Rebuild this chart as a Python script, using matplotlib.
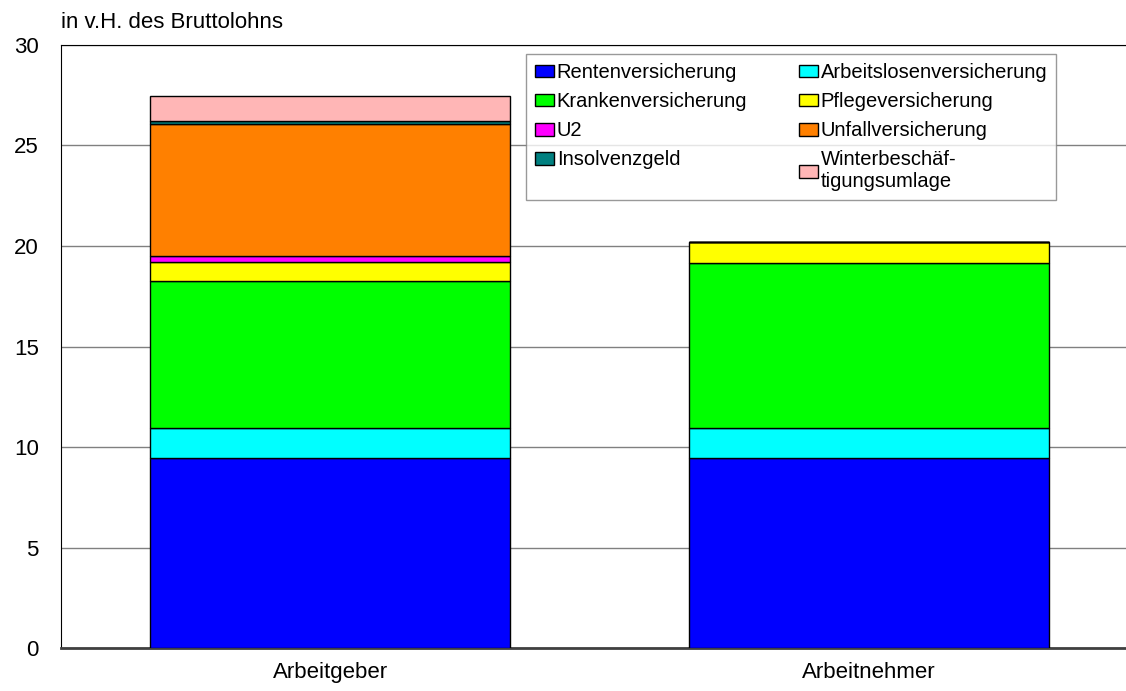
import matplotlib.pyplot as plt
import numpy as np

plt.rcParams["font.family"] = ["Liberation Sans", "DejaVu Sans"]

CATEGORIES = ["Arbeitgeber", "Arbeitnehmer"]
SERIES = [
    "Rentenversicherung",
    "Arbeitslosenversicherung",
    "Krankenversicherung",
    "Pflegeversicherung",
    "U2",
    "Unfallversicherung",
    "Insolvenzgeld",
    "Winterbeschäf-\ntigungsumlage",
]
# Beitragssätze in v.H. des Bruttolohns (Arbeitgeber, Arbeitnehmer)
RENTEN = [9.45, 9.45]
ARBEITSLOSEN = [1.5, 1.5]
KRANKEN = [7.3, 8.2]
PFLEGE = [0.975, 1.05]
U2 = [0.3, 0.0]
UNFALL = [6.55, 0.0]
INSOLVENZ = [0.15, 0.0]
WINTER = [1.25, 0.0]

COLORS = ["#0000ff", "#00ffff", "#00ff00", "#ffff00",
          "#ff00ff", "#ff8000", "#008080", "#ffb6b6"]

values = [RENTEN, ARBEITSLOSEN, KRANKEN, PFLEGE, U2, UNFALL, INSOLVENZ, WINTER]

fig = plt.figure(figsize=(11.26, 6.91), dpi=100)
ax = fig.add_axes([0.0542, 0.0622, 0.9458, 0.8727])

x = np.arange(len(CATEGORIES))
bottom = np.zeros(len(CATEGORIES))
handles = []
for name, vals, color in zip(SERIES, values, COLORS):
    vals = np.array(vals)
    h = ax.bar(x, vals, width=0.668, bottom=bottom, color=color,
               edgecolor="black", linewidth=1.0, label=name, zorder=3)
    handles.append(h)
    bottom += vals

ax.set_xlim(-0.5, 1.477)
ax.set_ylim(0, 30)
ax.set_yticks(range(0, 31, 5))
ax.set_xticks(x)
ax.set_xticklabels(CATEGORIES, fontsize=16)
ax.tick_params(axis="y", length=0, labelsize=16, pad=16)
ax.tick_params(axis="x", length=0, pad=10)
ax.yaxis.grid(True, color="#808080", linewidth=1.0, zorder=0)
ax.set_axisbelow(True)

ax.spines["right"].set_visible(False)
ax.spines["top"].set_color("black")
ax.spines["left"].set_color("black")
ax.spines["bottom"].set_color("#404040")
ax.spines["bottom"].set_linewidth(2.0)

ax.text(0.0, 1.02, "in v.H. des Bruttolohns", transform=ax.transAxes,
        fontsize=16, ha="left", va="bottom")

# legend is filled row by row in the original, matplotlib fills columns
order = [0, 2, 4, 6, 1, 3, 5, 7]
leg = ax.legend([handles[i] for i in order], [SERIES[i] for i in order],
                ncol=2, loc="upper left", bbox_to_anchor=(0.437, 0.985),
                fontsize=14.5, frameon=True, fancybox=False, edgecolor="#808080",
                handlelength=0.9, handleheight=0.6, handletextpad=0.15,
                columnspacing=2.6, labelspacing=0.5, borderpad=0.45,
                borderaxespad=0)
leg.get_frame().set_linewidth(1.0)

fig.savefig("out.png", dpi=100)
